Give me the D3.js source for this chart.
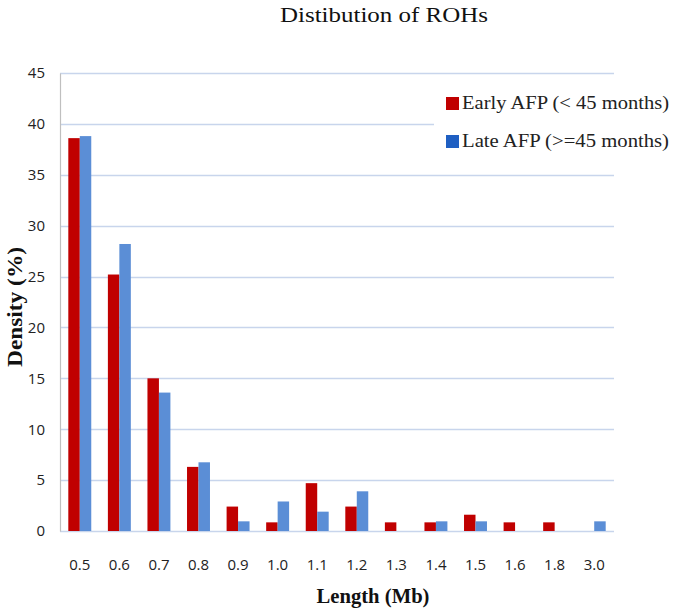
<!DOCTYPE html>
<html>
<head>
<meta charset="utf-8">
<script src="https://cdn.jsdelivr.net/npm/d3@7"></script>
<style>
  html, body { margin: 0; padding: 0; background: #ffffff; }
  svg { display: block; }
</style>
</head>
<body>
<svg id="chart" width="676" height="611"></svg>
<script>
// ---- data ----
const categories = ["0.5","0.6","0.7","0.8","0.9","1.0","1.1","1.2","1.3","1.4","1.5","1.6","1.8","3.0"];
const earlyValues = [38.6, 25.2, 15.0, 6.3, 2.4, 0.85, 4.7, 2.4, 0.85, 0.85, 1.6, 0.85, 0.85, 0];
const lateValues  = [38.8, 28.2, 13.6, 6.75, 0.95, 2.9, 1.9, 3.9, 0, 0.95, 0.95, 0, 0, 0.95];
const seriesNames = ["Early AFP (< 45 months)", "Late AFP (>=45 months)"];
const yTicks = [0, 5, 10, 15, 20, 25, 30, 35, 40, 45];

(function () {
// ---- layout ----
const svg = d3.select("#chart");
const pLeft = 60, pRight = 614, pTop = 73, pBottom = 531;
const barColors = ["#C00000", "#5B8ED6"];
const legendColors = ["#C00000", "#1F5FC2"];
const serif = "'Liberation Serif', 'Times New Roman', serif";
const sans = "'Open Sans', 'Liberation Sans', sans-serif";

const x0 = d3.scaleBand().domain(categories).range([pLeft, pRight])
  .paddingInner(0.42).paddingOuter(0.21);
const x1 = d3.scaleBand().domain([0, 1]).range([0, x0.bandwidth()]);
const y = d3.scaleLinear().domain([0, 45]).range([pBottom, pTop]);

// gridlines
svg.append("g")
  .selectAll("line").data(yTicks).join("line")
  .attr("x1", pLeft).attr("x2", pRight)
  .attr("y1", d => Math.round(y(d)) + 0.5).attr("y2", d => Math.round(y(d)) + 0.5)
  .attr("stroke", "#C8D5EC").attr("stroke-width", 1.3);

// y axis
const yAxis = d3.axisLeft(y).tickValues(yTicks).tickSize(0).tickPadding(15);
const yg = svg.append("g").attr("transform", `translate(${pLeft},0)`).call(yAxis);
yg.select(".domain").attr("stroke", "#BFBFBF").attr("stroke-width", 1.2);
yg.selectAll("text").attr("font-family", sans)
  .attr("font-size", 15).attr("fill", "#222");

// bars
const rows = categories.map((c, i) => ({ cat: c, vals: [earlyValues[i], lateValues[i]] }));
const groups = svg.append("g").selectAll("g").data(rows).join("g")
  .attr("transform", d => `translate(${x0(d.cat)},0)`);
groups.selectAll("rect")
  .data(d => d.vals.map((v, k) => ({ v, k })).filter(e => e.v > 0))
  .join("rect")
  .attr("x", e => x1(e.k))
  .attr("width", x1.bandwidth())
  .attr("y", e => y(e.v))
  .attr("height", e => pBottom - y(e.v))
  .attr("fill", e => barColors[e.k]);

// x axis labels
const xAxis = d3.axisBottom(x0).tickSize(0).tickPadding(28);
const xg = svg.append("g").attr("transform", `translate(0,${pBottom})`).call(xAxis);
xg.select(".domain").remove();
xg.selectAll("text").attr("font-family", sans)
  .attr("font-size", 15).attr("fill", "#222");

// title
svg.append("text").attr("x", 384).attr("y", 22).attr("text-anchor", "middle")
  .attr("font-family", serif)
  .attr("font-size", 22).attr("fill", "#111")
  .attr("textLength", 208).attr("lengthAdjust", "spacingAndGlyphs")
  .text("Distibution of ROHs");

// axis titles
svg.append("text").attr("x", 373).attr("y", 603).attr("text-anchor", "middle")
  .attr("font-family", serif)
  .attr("font-weight", "bold").attr("font-size", 20).attr("fill", "#111")
  .attr("textLength", 113).attr("lengthAdjust", "spacingAndGlyphs")
  .text("Length (Mb)");
svg.append("text").attr("transform", "translate(22,307) rotate(-90)").attr("text-anchor", "middle")
  .attr("font-family", serif)
  .attr("font-weight", "bold").attr("font-size", 21).attr("fill", "#111")
  .attr("textLength", 120).attr("lengthAdjust", "spacingAndGlyphs")
  .text("Density (%)");

// legend
const lg = svg.append("g");
lg.append("rect").attr("x", 434).attr("y", 82).attr("width", 242).attr("height", 80).attr("fill", "#fff");
seriesNames.forEach((name, i) => {
  const cy = 103 + i * 38;
  lg.append("rect").attr("x", 446).attr("y", cy - 6).attr("width", 13).attr("height", 13)
    .attr("fill", legendColors[i]);
  lg.append("text").attr("x", 462).attr("y", cy + 6)
    .attr("font-family", serif)
    .attr("font-size", 19).attr("fill", "#222")
    .attr("textLength", 207).attr("lengthAdjust", "spacingAndGlyphs")
    .text(name);
});
})();
</script>
</body>
</html>
